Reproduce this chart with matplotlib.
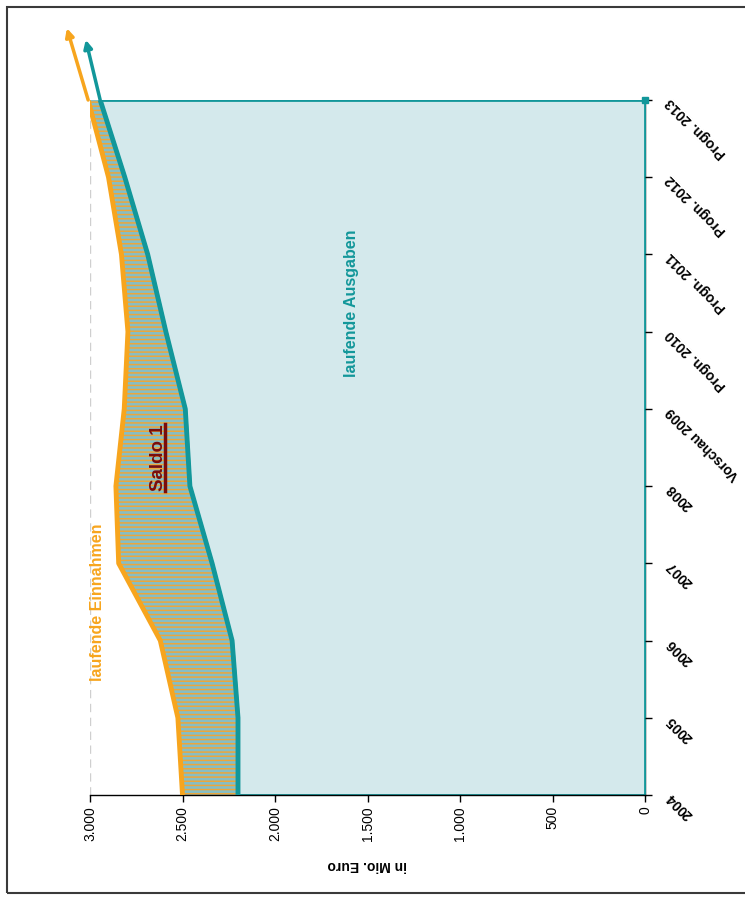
import matplotlib
matplotlib.use('Agg')
import matplotlib.pyplot as plt
from matplotlib.patches import Rectangle
from matplotlib.lines import Line2D

# Datos (Mio. Euro)
years = ['2004', '2005', '2006', '2007', '2008', 'Vorschau 2009',
         'Progn. 2010', 'Progn. 2011', 'Progn. 2012', 'Progn. 2013']
einnahmen = [2500, 2525, 2620, 2845, 2860, 2815, 2795, 2830, 2900, 3010]
ausgaben = [2200, 2200, 2232, 2340, 2460, 2485, 2590, 2688, 2812, 2945]
# Trendpfeile nach 2013 (Verlaengerung, in Jahren / Mio. Euro)
arrow_ein = (0.93, 115)
arrow_aus = (0.78, 78)
value_ticks = [0, 500, 1000, 1500, 2000, 2500, 3000]
value_labels = ['0', '500', '1.000', '1.500', '2.000', '2.500', '3.000']

ORANGE = '#f7a51e'
TEAL = '#12979a'
LIGHT = '#d4e9ec'
HATCH_BG = '#86bec5'
DARKRED = '#7a0c0c'

plt.rcParams['font.family'] = ['Liberation Sans', 'DejaVu Sans']
plt.rcParams['hatch.linewidth'] = 1.1

fig = plt.figure(figsize=(7.45, 8.97), dpi=100)
W, H = 745, 897
ax = fig.add_axes([90 / W, 1 - 795 / H, (645 - 90) / W, (795 - 100) / H])

idx = list(range(len(years)))

# Gitterlinien (nur 3.000 sichtbar)
for v in value_ticks[1:]:
    ax.axvline(v, color='#cfcfcf', lw=1, ls=(0, (6, 4)), zorder=0)

# laufende Ausgaben: Flaeche
ax.fill_betweenx(idx, 0, ausgaben, facecolor=LIGHT, edgecolor=TEAL, lw=2, zorder=1)
# Saldo 1: schraffierte Flaeche zwischen den Linien
ax.fill_betweenx(idx, ausgaben, einnahmen, facecolor=HATCH_BG, hatch='----',
                 edgecolor='#eda63a', lw=0, zorder=2)

ax.plot(ausgaben, idx, color=TEAL, lw=3.5, zorder=4, solid_capstyle='butt')
ax.plot(einnahmen, idx, color=ORANGE, lw=3.5, zorder=5, solid_capstyle='butt')
ax.plot([0], [idx[-1]], marker='s', ms=5, color=TEAL, clip_on=False, zorder=6)

# Pfeile
last = idx[-1]
ax.annotate('', xy=(einnahmen[-1] + arrow_ein[1], last + arrow_ein[0]),
            xytext=(einnahmen[-1], last),
            arrowprops=dict(arrowstyle='-|>', color=ORANGE, lw=2.5, mutation_scale=12,
                            shrinkA=0, shrinkB=0), annotation_clip=False)
ax.annotate('', xy=(ausgaben[-1] + arrow_aus[1], last + arrow_aus[0]),
            xytext=(ausgaben[-1], last),
            arrowprops=dict(arrowstyle='-|>', color=TEAL, lw=2.5, mutation_scale=12,
                            shrinkA=0, shrinkB=0), annotation_clip=False)

ax.set_xlim(3000, 0)
ax.set_ylim(0, len(years) - 1)

for s in ['top', 'left']:
    ax.spines[s].set_visible(False)
ax.spines['bottom'].set_linewidth(1)
ax.spines['right'].set_linewidth(1)
ax.spines['right'].set_zorder(0)

ax.set_xticks(value_ticks)
ax.set_xticklabels(value_labels, fontsize=10)
ax.tick_params(axis='x', direction='out', length=5, width=1, pad=3)
for lab in ax.get_xticklabels():
    lab.set(rotation=90, rotation_mode='anchor', ha='right', va='center')

ax.yaxis.tick_right()
ax.set_yticks(idx)
ax.set_yticklabels(years, fontsize=10, fontweight='bold')
ax.tick_params(axis='y', direction='out', length=5, width=1, pad=12)
for lab in ax.get_yticklabels():
    lab.set(rotation=135, rotation_mode='anchor', ha='right', va='center')

ax.set_xlabel('in Mio. Euro', rotation=180, fontsize=10, fontweight='bold', labelpad=12)

# Beschriftungen
ax.text(2957, 2.5, 'laufende Einnahmen', color=ORANGE, fontsize=11.5, fontweight='bold',
        rotation=90, ha='center', va='center', zorder=7)
ax.text(1584, 6.37, 'laufende Ausgaben', color=TEAL, fontsize=11.5, fontweight='bold',
        rotation=90, ha='center', va='center', zorder=7)
saldo = ax.text(2632, 4.37, 'Saldo 1', color=DARKRED, fontsize=13.5, fontweight='bold',
                rotation=90, ha='center', va='center', zorder=7)

# Unterstreichung fuer Saldo 1
fig.canvas.draw()
bb = saldo.get_window_extent()
ux = (bb.x1 - 2) / W
fig.add_artist(Line2D([ux, ux], [bb.y0 / H, bb.y1 / H], color=DARKRED, lw=2.5,
                      transform=fig.transFigure))

# Rahmen
fig.add_artist(Rectangle((7 / W, 4 / H), 1.2, 1 - 11 / H, transform=fig.transFigure,
                         fill=False, edgecolor='#3a3a3a', lw=1.5, clip_on=False))

fig.savefig('out.png', dpi=100)
